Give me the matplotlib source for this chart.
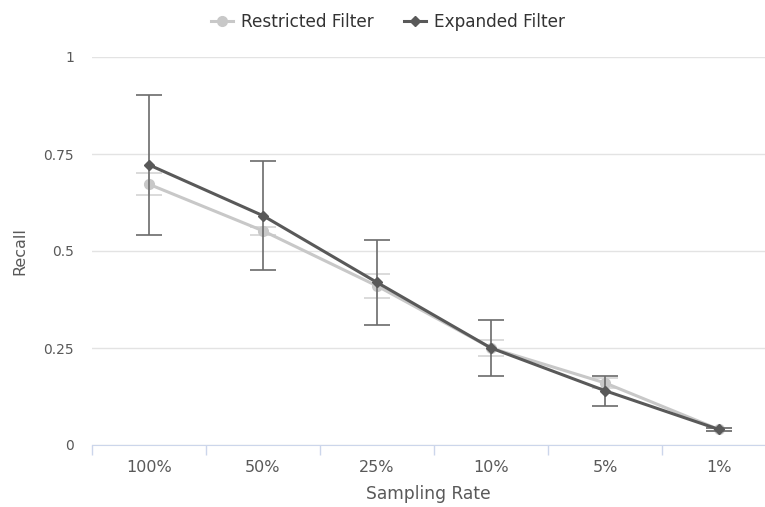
import numpy as np
import matplotlib.pyplot as plt
from matplotlib.lines import Line2D

plt.rcParams['font.family'] = ['DejaVu Sans']

# data
rates = ["100%", "50%", "25%", "10%", "5%", "1%"]
restricted = [0.672, 0.552, 0.41, 0.25, 0.16, 0.04]
restricted_err = [0.028, 0.01, 0.032, 0.02, 0.012, 0.004]
expanded = [0.722, 0.591, 0.419, 0.25, 0.14, 0.04]
expanded_err = [0.18, 0.14, 0.11, 0.072, 0.039, 0.004]

text_col = "#595959"
light = "#c8c8c8"
dark = "#595959"

fig = plt.figure(figsize=(7.65, 5.07), dpi=100)
ax = fig.add_axes([92/765, 1-445/507, 1-92/765, (445-57)/507])

x = np.arange(len(rates))

ax.errorbar(x, restricted, yerr=restricted_err, color=light, ecolor="#d4d4d4",
            elinewidth=1.2, capsize=9.5, capthick=1.2, lw=2.2, marker="o", ms=7,
            zorder=3)
ax.errorbar(x, expanded, yerr=expanded_err, color=dark, ecolor="#6b6b6b",
            elinewidth=1.2, capsize=9.5, capthick=1.2, lw=2.2, marker="D", ms=5,
            zorder=4)

ax.set_ylim(0, 1)
ax.set_xlim(-0.5, 5.5 - 11/114)
ax.set_yticks([0, 0.25, 0.5, 0.75, 1])
ax.set_yticklabels(["0", "0.25", "0.5", "0.75", "1"])
ax.yaxis.grid(True, color="#e3e3e3", lw=1)
ax.set_axisbelow(True)

ax.set_xticks(x)
ax.set_xticklabels(rates)
ax.set_xticks(np.arange(-0.5, 5.5, 1), minor=True)
ax.tick_params(axis="x", which="major", length=0, pad=11, labelsize=11.5, labelcolor=text_col)
ax.tick_params(axis="x", which="minor", length=7.5, color="#ccd6eb", width=1)
ax.tick_params(axis="y", length=0, pad=13, labelsize=10, labelcolor=text_col)

for s in ["top", "right", "left"]:
    ax.spines[s].set_visible(False)
ax.spines["bottom"].set_color("#ccd6eb")

ax.set_xlabel("Sampling Rate", fontsize=12.3, color=text_col, labelpad=7)
ax.set_ylabel("Recall", fontsize=11.5, color=text_col)
ax.yaxis.set_label_coords((27 - 92) / 673, 0.5)

handles = [Line2D([], [], color=light, lw=2.2, marker="o", ms=7),
           Line2D([], [], color=dark, lw=2.2, marker="D", ms=5)]
leg = ax.legend(handles, ["Restricted Filter", "Expanded Filter"],
                loc="upper center", bbox_to_anchor=(0.5 - 0.06, 1.152), ncol=2,
                frameon=False, fontsize=12.2, handlelength=1.3, columnspacing=1.8,
                handletextpad=0.45)
for t in leg.get_texts():
    t.set_color("#333333")

fig.savefig("out.png", dpi=100)
